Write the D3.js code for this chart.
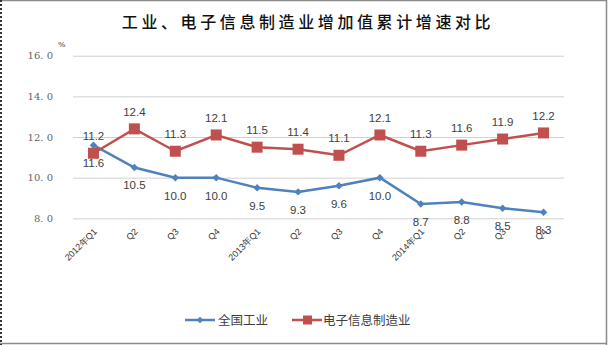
<!DOCTYPE html>
<html><head><meta charset="utf-8">
<script src="https://cdn.jsdelivr.net/npm/d3@7"></script>
<style>
html,body{margin:0;padding:0;background:#fff;}
svg{display:block;}
</style></head>
<body>
<svg id="c" width="608" height="345"></svg>
<script>
const categories = ["2012年Q1","Q2","Q3","Q4","2013年Q1","Q2","Q3","Q4","2014年Q1","Q2","Q3","Q4"];
const industry = [11.6,10.5,10.0,10.0,9.5,9.3,9.6,10.0,8.7,8.8,8.5,8.3];
const electronics = [11.2,12.4,11.3,12.1,11.5,11.4,11.1,12.1,11.3,11.6,11.9,12.2];
const yTicks = [8,10,12,14,16];
const seriesNames = ["全国工业","电子信息制造业"];
const title = "工业、电子信息制造业增加值累计增速对比";

const svg = d3.select("#c");
const W = 608, H = 345;
svg.append("rect").attr("x",0).attr("y",0).attr("width",W).attr("height",H).attr("fill","#fff");
// border
svg.append("line").attr("x1",0).attr("x2",607).attr("y1",0.5).attr("y2",0.5).attr("stroke","#8c8c8c").attr("stroke-width",1.5);
svg.append("line").attr("x1",606.5).attr("x2",606.5).attr("y1",0).attr("y2",345).attr("stroke","#8c8c8c").attr("stroke-width",1.5);
svg.append("line").attr("x1",0).attr("x2",607).attr("y1",343.5).attr("y2",343.5).attr("stroke","#8c8c8c").attr("stroke-width",1.5);
svg.append("line").attr("x1",1).attr("x2",1).attr("y1",0).attr("y2",345).attr("stroke","#333").attr("stroke-width",2).attr("stroke-dasharray","2,2");

const x = d3.scaleBand().domain(d3.range(categories.length)).range([73,564]);
const y = d3.scaleLinear().domain([8,16]).range([218.3,55.7]);
const cx = i => x(i) + x.bandwidth()/2;

// title
svg.append("text").attr("x",308).attr("y",28).attr("text-anchor","middle")
  .attr("font-family","'Noto Sans CJK SC'").attr("font-size",16).attr("font-weight",500)
  .attr("letter-spacing","3.6px").attr("fill","#111").text(title);

// gridlines
const gy = svg.append("g").attr("transform","translate(73,0)")
  .call(d3.axisLeft(y).tickValues(yTicks).tickSize(-(564-73)).tickFormat(d => d3.format(".1f")(d).replace(".", ". ")));
gy.select(".domain").remove();
gy.selectAll(".tick line").attr("stroke","#d0d0d0").attr("stroke-width",1);
gy.selectAll(".tick text").attr("x",-20).attr("fill","#666")
  .attr("font-family","'DejaVu Serif','Liberation Serif',serif").attr("font-size",10);
svg.append("text").attr("x",58).attr("y",47).attr("font-family","'DejaVu Serif',serif").attr("font-size",8).attr("fill","#333").text("%");

// x axis labels
const gx = svg.append("g").attr("transform","translate(0,218.3)")
  .call(d3.axisBottom(x).tickSize(0).tickFormat(i => categories[i]));
gx.select(".domain").remove();
gx.selectAll(".tick text")
  .attr("font-family","'Liberation Sans',Arial,sans-serif").attr("font-size",9).attr("fill","#333")
  .attr("text-anchor","end").attr("dy",0).attr("y",0)
  .attr("transform","translate(4,14) rotate(-45)");

const blue = "#4F81BD", red = "#C0504D";
const line = d3.line().x((d,i)=>cx(i)).y(d=>y(d));

svg.append("path").datum(industry).attr("d",line).attr("fill","none").attr("stroke",blue).attr("stroke-width",2.5);
svg.append("path").datum(electronics).attr("d",line).attr("fill","none").attr("stroke",red).attr("stroke-width",2.5);

svg.append("g").selectAll("path").data(industry).join("path")
  .attr("d", d3.symbol().type(d3.symbolSquare).size(28))
  .attr("transform",(d,i)=>`translate(${cx(i)},${y(d)}) rotate(45)`).attr("fill",blue);
svg.append("g").selectAll("rect").data(electronics).join("rect")
  .attr("x",(d,i)=>cx(i)-5.5).attr("y",d=>y(d)-5.5).attr("width",11).attr("height",11).attr("fill",red);

// data labels
const lf = "'Liberation Sans',Arial,sans-serif";
svg.append("g").selectAll("text").data(industry).join("text")
  .attr("x",(d,i)=>cx(i)).attr("y",d=>y(d)+22).attr("text-anchor","middle")
  .attr("font-family",lf).attr("font-size",11.5).attr("fill","#404040").text(d=>d3.format(".1f")(d));
svg.append("g").selectAll("text").data(electronics).join("text")
  .attr("x",(d,i)=>cx(i)).attr("y",d=>y(d)-13).attr("text-anchor","middle")
  .attr("font-family",lf).attr("font-size",11.5).attr("fill","#404040").text(d=>d3.format(".1f")(d));

// legend
const lg = svg.append("g");
const ly = 320;
lg.append("line").attr("x1",185).attr("x2",215).attr("y1",ly).attr("y2",ly).attr("stroke",blue).attr("stroke-width",2.5);
lg.append("path").attr("d",d3.symbol().type(d3.symbolSquare).size(22)).attr("transform",`translate(200,${ly}) rotate(45)`).attr("fill",blue);
lg.append("text").attr("x",218).attr("y",ly+4.5).attr("font-family","'Noto Sans CJK SC'").attr("font-size",12.5).attr("fill","#404040").text(seriesNames[0]);
lg.append("line").attr("x1",292).attr("x2",322).attr("y1",ly).attr("y2",ly).attr("stroke",red).attr("stroke-width",2.5);
lg.append("rect").attr("x",303).attr("y",ly-4.5).attr("width",9).attr("height",9).attr("fill",red);
lg.append("text").attr("x",323).attr("y",ly+4.5).attr("font-family","'Noto Sans CJK SC'").attr("font-size",12.5).attr("fill","#404040").text(seriesNames[1]);
</script>
</body></html>
